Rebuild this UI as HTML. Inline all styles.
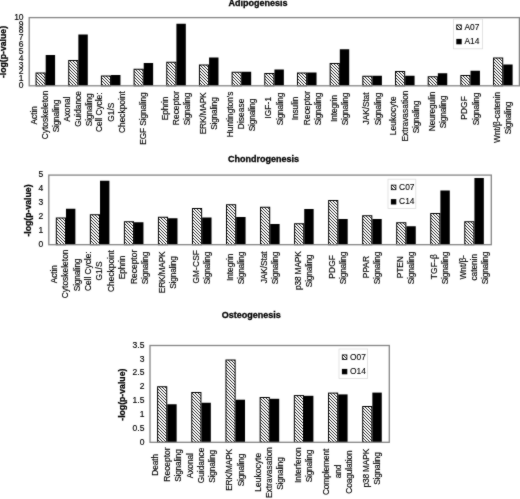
<!DOCTYPE html>
<html><head><meta charset="utf-8"><style>
html,body{margin:0;padding:0;background:#fff;width:520px;height:499px;overflow:hidden}
svg{display:block}
svg{will-change:transform}
text{font-family:"Liberation Sans",sans-serif;fill:#000;stroke:#000;stroke-width:0.16px}
.t{font-weight:bold;font-size:9.0px;stroke-width:0.3px}
.y{font-weight:bold;font-size:8.7px;stroke-width:0.25px}
.k{font-size:8.5px}
.c{font-size:8.37px}
.g{font-size:8.4px;stroke-width:0.1px}
</style></head><body>
<svg width="520" height="499" viewBox="0 0 520 499">
<defs><filter id="bl" x="0" y="0" width="520" height="499" filterUnits="userSpaceOnUse" color-interpolation-filters="sRGB"><feConvolveMatrix order="3" kernelMatrix="1 2 1 2 24 2 1 2 1" divisor="36" edgeMode="duplicate"/></filter><pattern id="h" x="0" y="0" width="3" height="3" patternUnits="userSpaceOnUse"><rect width="3" height="3" fill="#fff"/><rect x="0" y="0" width="1" height="1" fill="#333"/><rect x="1" y="1" width="1" height="1" fill="#333"/><rect x="2" y="2" width="1" height="1" fill="#333"/></pattern></defs>
<g filter="url(#bl)"><rect width="520" height="499" fill="#fff"/>

<text class="t" x="258" y="6.3" text-anchor="middle">Adipogenesis</text>
<text class="y" transform="translate(6.1,52) rotate(-90)" text-anchor="middle">-log(p-value)</text>
<text class="k" x="23.6" y="88.05" text-anchor="end">0</text>
<text class="k" x="23.6" y="81.23" text-anchor="end">1</text>
<text class="k" x="23.6" y="74.41" text-anchor="end">2</text>
<text class="k" x="23.6" y="67.59" text-anchor="end">3</text>
<text class="k" x="23.6" y="60.77" text-anchor="end">4</text>
<text class="k" x="23.6" y="53.95" text-anchor="end">5</text>
<text class="k" x="23.6" y="47.13" text-anchor="end">6</text>
<text class="k" x="23.6" y="40.31" text-anchor="end">7</text>
<text class="k" x="23.6" y="33.49" text-anchor="end">8</text>
<text class="k" x="23.6" y="26.67" text-anchor="end">9</text>
<text class="k" x="23.6" y="19.85" text-anchor="end">10</text>
<rect x="36.04" y="73" width="9.15" height="12.8" fill="url(#h)" stroke="#000" stroke-width="1"/>
<rect x="45.69" y="55" width="9.4" height="30.8" fill="#000"/>
<rect x="68.72" y="60.5" width="9.15" height="25.3" fill="url(#h)" stroke="#000" stroke-width="1"/>
<rect x="78.37" y="34.5" width="9.4" height="51.3" fill="#000"/>
<rect x="101.4" y="76" width="9.15" height="9.8" fill="url(#h)" stroke="#000" stroke-width="1"/>
<rect x="111.05" y="75" width="9.4" height="10.8" fill="#000"/>
<rect x="134.08" y="69.25" width="9.15" height="16.55" fill="url(#h)" stroke="#000" stroke-width="1"/>
<rect x="143.73" y="63" width="9.4" height="22.8" fill="#000"/>
<rect x="166.76" y="62.25" width="9.15" height="23.55" fill="url(#h)" stroke="#000" stroke-width="1"/>
<rect x="176.41" y="23.75" width="9.4" height="62.05" fill="#000"/>
<rect x="199.44" y="65" width="9.15" height="20.8" fill="url(#h)" stroke="#000" stroke-width="1"/>
<rect x="209.09" y="57.5" width="9.4" height="28.3" fill="#000"/>
<rect x="232.12" y="72.25" width="9.15" height="13.55" fill="url(#h)" stroke="#000" stroke-width="1"/>
<rect x="241.77" y="71.75" width="9.4" height="14.05" fill="#000"/>
<rect x="264.8" y="73.5" width="9.15" height="12.3" fill="url(#h)" stroke="#000" stroke-width="1"/>
<rect x="274.45" y="69.5" width="9.4" height="16.3" fill="#000"/>
<rect x="297.48" y="73" width="9.15" height="12.8" fill="url(#h)" stroke="#000" stroke-width="1"/>
<rect x="307.13" y="72.5" width="9.4" height="13.3" fill="#000"/>
<rect x="330.16" y="63.5" width="9.15" height="22.3" fill="url(#h)" stroke="#000" stroke-width="1"/>
<rect x="339.81" y="49.25" width="9.4" height="36.55" fill="#000"/>
<rect x="362.84" y="76.25" width="9.15" height="9.55" fill="url(#h)" stroke="#000" stroke-width="1"/>
<rect x="372.49" y="75.75" width="9.4" height="10.05" fill="#000"/>
<rect x="395.52" y="71.5" width="9.15" height="14.3" fill="url(#h)" stroke="#000" stroke-width="1"/>
<rect x="405.17" y="75.75" width="9.4" height="10.05" fill="#000"/>
<rect x="428.2" y="76.75" width="9.15" height="9.05" fill="url(#h)" stroke="#000" stroke-width="1"/>
<rect x="437.85" y="73.25" width="9.4" height="12.55" fill="#000"/>
<rect x="460.88" y="75.5" width="9.15" height="10.3" fill="url(#h)" stroke="#000" stroke-width="1"/>
<rect x="470.53" y="70.75" width="9.4" height="15.05" fill="#000"/>
<rect x="493.56" y="58" width="9.15" height="27.8" fill="url(#h)" stroke="#000" stroke-width="1"/>
<rect x="503.21" y="64.5" width="9.4" height="21.3" fill="#000"/>
<rect x="29.2" y="17.6" width="490.2" height="68.2" fill="none" stroke="#858585" stroke-width="1.3"/>
<rect x="453.4" y="19" width="29.2" height="29.8" fill="#fff" stroke="#ddd" stroke-width="0.8"/>
<rect x="456.7" y="24.9" width="4.6" height="4.6" fill="url(#h)" stroke="#000" stroke-width="0.8"/>
<text class="g" x="464.5" y="29.8">A07</text>
<rect x="456.3" y="38.9" width="5.4" height="5.4" fill="#000"/>
<text class="g" x="464.5" y="44.2">A14</text>
<text class="c" transform="translate(36.94,124.41) rotate(-90)" textLength="18.26" lengthAdjust="spacing">Actin</text>
<text class="c" transform="translate(48.14,139.3) rotate(-90)" textLength="48.7" lengthAdjust="spacing">Cytoskeleton</text>
<text class="c" transform="translate(59.34,132.32) rotate(-90)" textLength="32.72" lengthAdjust="spacing">Signaling</text>
<text class="c" transform="translate(69.62,121.71) rotate(-90)" textLength="25.11" lengthAdjust="spacing">Axonal</text>
<text class="c" transform="translate(80.82,126.83) rotate(-90)" textLength="35.77" lengthAdjust="spacing">Guidance</text>
<text class="c" transform="translate(92.02,126.13) rotate(-90)" textLength="32.72" lengthAdjust="spacing">Signaling</text>
<text class="c" transform="translate(102.3,132.09) rotate(-90)" textLength="39.57" lengthAdjust="spacing">Cell Cycle:</text>
<text class="c" transform="translate(113.5,121.63) rotate(-90)" textLength="19.02" lengthAdjust="spacing">G1/S</text>
<text class="c" transform="translate(124.7,133.03) rotate(-90)" textLength="41.86" lengthAdjust="spacing">Checkpoint</text>
<text class="c" transform="translate(146.18,144.75) rotate(-90)" textLength="52.51" lengthAdjust="spacing">EGF Signaling</text>
<text class="c" transform="translate(167.66,120.25) rotate(-90)" textLength="23.59" lengthAdjust="spacing">Ephrin</text>
<text class="c" transform="translate(178.86,125.13) rotate(-90)" textLength="34.24" lengthAdjust="spacing">Receptor</text>
<text class="c" transform="translate(190.06,125.37) rotate(-90)" textLength="32.72" lengthAdjust="spacing">Signaling</text>
<text class="c" transform="translate(205.94,134.26) rotate(-90)" textLength="41.86" lengthAdjust="spacing">ERK/MAPK</text>
<text class="c" transform="translate(217.14,129.85) rotate(-90)" textLength="32.72" lengthAdjust="spacing">Signaling</text>
<text class="c" transform="translate(233.02,137.16) rotate(-90)" textLength="45.66" lengthAdjust="spacing">Huntington's</text>
<text class="c" transform="translate(244.22,129.15) rotate(-90)" textLength="30.44" lengthAdjust="spacing">Disease</text>
<text class="c" transform="translate(255.42,131.25) rotate(-90)" textLength="32.72" lengthAdjust="spacing">Signaling</text>
<text class="c" transform="translate(271.3,118.85) rotate(-90)" textLength="22.07" lengthAdjust="spacing">IGF-1</text>
<text class="c" transform="translate(282.5,125.37) rotate(-90)" textLength="32.72" lengthAdjust="spacing">Signaling</text>
<text class="c" transform="translate(298.38,120.25) rotate(-90)" textLength="23.59" lengthAdjust="spacing">Insulin</text>
<text class="c" transform="translate(309.58,125.13) rotate(-90)" textLength="34.24" lengthAdjust="spacing">Receptor</text>
<text class="c" transform="translate(320.78,125.37) rotate(-90)" textLength="32.72" lengthAdjust="spacing">Signaling</text>
<text class="c" transform="translate(336.66,122.11) rotate(-90)" textLength="27.4" lengthAdjust="spacing">Integrin</text>
<text class="c" transform="translate(347.86,125.37) rotate(-90)" textLength="32.72" lengthAdjust="spacing">Signaling</text>
<text class="c" transform="translate(369.34,124.43) rotate(-90)" textLength="31.96" lengthAdjust="spacing">JAK/Stat</text>
<text class="c" transform="translate(380.54,125.37) rotate(-90)" textLength="32.72" lengthAdjust="spacing">Signaling</text>
<text class="c" transform="translate(396.42,135.21) rotate(-90)" textLength="38.81" lengthAdjust="spacing">Leukocyte</text>
<text class="c" transform="translate(407.62,141.49) rotate(-90)" textLength="50.99" lengthAdjust="spacing">Extravasation</text>
<text class="c" transform="translate(418.82,133.35) rotate(-90)" textLength="32.72" lengthAdjust="spacing">Signaling</text>
<text class="c" transform="translate(434.7,131.26) rotate(-90)" textLength="39.57" lengthAdjust="spacing">Neuregulin</text>
<text class="c" transform="translate(445.9,128.24) rotate(-90)" textLength="32.72" lengthAdjust="spacing">Signaling</text>
<text class="c" transform="translate(467.38,119.78) rotate(-90)" textLength="23.59" lengthAdjust="spacing">PDGF</text>
<text class="c" transform="translate(478.58,125.37) rotate(-90)" textLength="32.72" lengthAdjust="spacing">Signaling</text>
<text class="c" transform="translate(500.06,142.9) rotate(-90)" textLength="50.99" lengthAdjust="spacing">Wnt/β-catenin</text>
<text class="c" transform="translate(511.26,134.22) rotate(-90)" textLength="32.72" lengthAdjust="spacing">Signaling</text>
<text class="t" x="263.5" y="162" text-anchor="middle">Chondrogenesis</text>
<text class="y" transform="translate(30.6,210.5) rotate(-90)" text-anchor="middle">-log(p-value)</text>
<text class="k" x="43.2" y="246.95" text-anchor="end">0</text>
<text class="k" x="43.2" y="233.03" text-anchor="end">1</text>
<text class="k" x="43.2" y="219.11" text-anchor="end">2</text>
<text class="k" x="43.2" y="205.19" text-anchor="end">3</text>
<text class="k" x="43.2" y="191.27" text-anchor="end">4</text>
<text class="k" x="43.2" y="177.35" text-anchor="end">5</text>
<rect x="56.32" y="218" width="9.15" height="26.7" fill="url(#h)" stroke="#000" stroke-width="1"/>
<rect x="65.97" y="208.75" width="9.4" height="35.95" fill="#000"/>
<rect x="90.36" y="214.75" width="9.15" height="29.95" fill="url(#h)" stroke="#000" stroke-width="1"/>
<rect x="100.01" y="180.75" width="9.4" height="63.95" fill="#000"/>
<rect x="124.4" y="221.75" width="9.15" height="22.95" fill="url(#h)" stroke="#000" stroke-width="1"/>
<rect x="134.05" y="222.25" width="9.4" height="22.45" fill="#000"/>
<rect x="158.43" y="217.25" width="9.15" height="27.45" fill="url(#h)" stroke="#000" stroke-width="1"/>
<rect x="168.08" y="218.25" width="9.4" height="26.45" fill="#000"/>
<rect x="192.47" y="208.5" width="9.15" height="36.2" fill="url(#h)" stroke="#000" stroke-width="1"/>
<rect x="202.12" y="217.5" width="9.4" height="27.2" fill="#000"/>
<rect x="226.51" y="204.75" width="9.15" height="39.95" fill="url(#h)" stroke="#000" stroke-width="1"/>
<rect x="236.16" y="217" width="9.4" height="27.7" fill="#000"/>
<rect x="260.55" y="207.25" width="9.15" height="37.45" fill="url(#h)" stroke="#000" stroke-width="1"/>
<rect x="270.2" y="224" width="9.4" height="20.7" fill="#000"/>
<rect x="294.59" y="223.75" width="9.15" height="20.95" fill="url(#h)" stroke="#000" stroke-width="1"/>
<rect x="304.24" y="209" width="9.4" height="35.7" fill="#000"/>
<rect x="328.63" y="200.5" width="9.15" height="44.2" fill="url(#h)" stroke="#000" stroke-width="1"/>
<rect x="338.28" y="219" width="9.4" height="25.7" fill="#000"/>
<rect x="362.67" y="215.75" width="9.15" height="28.95" fill="url(#h)" stroke="#000" stroke-width="1"/>
<rect x="372.32" y="219" width="9.4" height="25.7" fill="#000"/>
<rect x="396.7" y="222.75" width="9.15" height="21.95" fill="url(#h)" stroke="#000" stroke-width="1"/>
<rect x="406.35" y="226.25" width="9.4" height="18.45" fill="#000"/>
<rect x="430.74" y="213.5" width="9.15" height="31.2" fill="url(#h)" stroke="#000" stroke-width="1"/>
<rect x="440.39" y="190.5" width="9.4" height="54.2" fill="#000"/>
<rect x="464.78" y="221.75" width="9.15" height="22.95" fill="url(#h)" stroke="#000" stroke-width="1"/>
<rect x="474.43" y="178" width="9.4" height="66.7" fill="#000"/>
<rect x="48.8" y="175.1" width="442.5" height="69.6" fill="none" stroke="#858585" stroke-width="1.3"/>
<rect x="388" y="179.2" width="27.8" height="29.2" fill="#fff" stroke="#ddd" stroke-width="0.8"/>
<rect x="391.3" y="185.1" width="4.6" height="4.6" fill="url(#h)" stroke="#000" stroke-width="0.8"/>
<text class="g" x="399.1" y="190">C07</text>
<rect x="390.9" y="199.1" width="5.4" height="5.4" fill="#000"/>
<text class="g" x="399.1" y="204.4">C14</text>
<text class="c" transform="translate(57.22,283.31) rotate(-90)" textLength="18.26" lengthAdjust="spacing">Actin</text>
<text class="c" transform="translate(68.42,298.2) rotate(-90)" textLength="48.7" lengthAdjust="spacing">Cytoskeleton</text>
<text class="c" transform="translate(79.62,291.22) rotate(-90)" textLength="32.72" lengthAdjust="spacing">Signaling</text>
<text class="c" transform="translate(91.26,290.99) rotate(-90)" textLength="39.57" lengthAdjust="spacing">Cell Cycle:</text>
<text class="c" transform="translate(102.46,280.53) rotate(-90)" textLength="19.02" lengthAdjust="spacing">G1/S</text>
<text class="c" transform="translate(113.66,291.93) rotate(-90)" textLength="41.86" lengthAdjust="spacing">Checkpoint</text>
<text class="c" transform="translate(125.3,279.15) rotate(-90)" textLength="23.59" lengthAdjust="spacing">Ephrin</text>
<text class="c" transform="translate(136.5,284.03) rotate(-90)" textLength="34.24" lengthAdjust="spacing">Receptor</text>
<text class="c" transform="translate(147.7,284.27) rotate(-90)" textLength="32.72" lengthAdjust="spacing">Signaling</text>
<text class="c" transform="translate(164.93,293.16) rotate(-90)" textLength="41.86" lengthAdjust="spacing">ERK/MAPK</text>
<text class="c" transform="translate(176.13,288.75) rotate(-90)" textLength="32.72" lengthAdjust="spacing">Signaling</text>
<text class="c" transform="translate(198.97,283.56) rotate(-90)" textLength="33.48" lengthAdjust="spacing">GM-CSF</text>
<text class="c" transform="translate(210.17,284.27) rotate(-90)" textLength="32.72" lengthAdjust="spacing">Signaling</text>
<text class="c" transform="translate(233.01,281.01) rotate(-90)" textLength="27.4" lengthAdjust="spacing">Integrin</text>
<text class="c" transform="translate(244.21,284.27) rotate(-90)" textLength="32.72" lengthAdjust="spacing">Signaling</text>
<text class="c" transform="translate(267.05,283.33) rotate(-90)" textLength="31.96" lengthAdjust="spacing">JAK/Stat</text>
<text class="c" transform="translate(278.25,284.27) rotate(-90)" textLength="32.72" lengthAdjust="spacing">Signaling</text>
<text class="c" transform="translate(301.09,289.99) rotate(-90)" textLength="38.81" lengthAdjust="spacing">p38 MAPK</text>
<text class="c" transform="translate(312.29,287.2) rotate(-90)" textLength="32.72" lengthAdjust="spacing">Signaling</text>
<text class="c" transform="translate(335.13,278.68) rotate(-90)" textLength="23.59" lengthAdjust="spacing">PDGF</text>
<text class="c" transform="translate(346.33,284.27) rotate(-90)" textLength="32.72" lengthAdjust="spacing">Signaling</text>
<text class="c" transform="translate(369.17,278.14) rotate(-90)" textLength="22.07" lengthAdjust="spacing">PPAR</text>
<text class="c" transform="translate(380.37,284.27) rotate(-90)" textLength="32.72" lengthAdjust="spacing">Signaling</text>
<text class="c" transform="translate(403.2,278.21) rotate(-90)" textLength="22.07" lengthAdjust="spacing">PTEN</text>
<text class="c" transform="translate(414.4,284.27) rotate(-90)" textLength="32.72" lengthAdjust="spacing">Signaling</text>
<text class="c" transform="translate(437.24,279.22) rotate(-90)" textLength="25.11" lengthAdjust="spacing">TGF-β</text>
<text class="c" transform="translate(448.44,284.27) rotate(-90)" textLength="32.72" lengthAdjust="spacing">Signaling</text>
<text class="c" transform="translate(465.68,279.45) rotate(-90)" textLength="24.35" lengthAdjust="spacing">Wnt/β-</text>
<text class="c" transform="translate(476.88,280.55) rotate(-90)" textLength="26.64" lengthAdjust="spacing">catenin</text>
<text class="c" transform="translate(488.08,284.27) rotate(-90)" textLength="32.72" lengthAdjust="spacing">Signaling</text>
<text class="t" x="251.3" y="318.2" text-anchor="middle">Osteogenesis</text>
<text class="y" transform="translate(124.5,394.7) rotate(-90)" text-anchor="middle">-log(p-value)</text>
<text class="k" x="144.4" y="444.55" text-anchor="end">0</text>
<text class="k" x="144.4" y="430.72" text-anchor="end">0.5</text>
<text class="k" x="144.4" y="416.89" text-anchor="end">1</text>
<text class="k" x="144.4" y="403.06" text-anchor="end">1.5</text>
<text class="k" x="144.4" y="389.24" text-anchor="end">2</text>
<text class="k" x="144.4" y="375.41" text-anchor="end">2.5</text>
<text class="k" x="144.4" y="361.58" text-anchor="end">3</text>
<text class="k" x="144.4" y="347.75" text-anchor="end">3.5</text>
<rect x="157.59" y="386.75" width="9.15" height="55.55" fill="url(#h)" stroke="#000" stroke-width="1"/>
<rect x="167.24" y="404.25" width="9.4" height="38.05" fill="#000"/>
<rect x="191.78" y="392.5" width="9.15" height="49.8" fill="url(#h)" stroke="#000" stroke-width="1"/>
<rect x="201.43" y="402.75" width="9.4" height="39.55" fill="#000"/>
<rect x="225.96" y="360" width="9.15" height="82.3" fill="url(#h)" stroke="#000" stroke-width="1"/>
<rect x="235.61" y="399.7" width="9.4" height="42.6" fill="#000"/>
<rect x="260.15" y="397.5" width="9.15" height="44.8" fill="url(#h)" stroke="#000" stroke-width="1"/>
<rect x="269.8" y="398.8" width="9.4" height="43.5" fill="#000"/>
<rect x="294.34" y="395.6" width="9.15" height="46.7" fill="url(#h)" stroke="#000" stroke-width="1"/>
<rect x="303.99" y="395.8" width="9.4" height="46.5" fill="#000"/>
<rect x="328.52" y="393.1" width="9.15" height="49.2" fill="url(#h)" stroke="#000" stroke-width="1"/>
<rect x="338.17" y="394.4" width="9.4" height="47.9" fill="#000"/>
<rect x="362.71" y="406.5" width="9.15" height="35.8" fill="url(#h)" stroke="#000" stroke-width="1"/>
<rect x="372.36" y="392.6" width="9.4" height="49.7" fill="#000"/>
<rect x="150" y="345.5" width="239.3" height="96.8" fill="none" stroke="#858585" stroke-width="1.3"/>
<rect x="339" y="349" width="28.6" height="29.4" fill="#fff" stroke="#ddd" stroke-width="0.8"/>
<rect x="342.3" y="354.9" width="4.6" height="4.6" fill="url(#h)" stroke="#000" stroke-width="0.8"/>
<text class="g" x="350.1" y="359.8">O07</text>
<rect x="341.9" y="368.9" width="5.4" height="5.4" fill="#000"/>
<text class="g" x="350.1" y="374.2">O14</text>
<text class="c" transform="translate(158.49,475.82) rotate(-90)" textLength="22.07" lengthAdjust="spacing">Death</text>
<text class="c" transform="translate(169.69,481.63) rotate(-90)" textLength="34.24" lengthAdjust="spacing">Receptor</text>
<text class="c" transform="translate(180.89,481.87) rotate(-90)" textLength="32.72" lengthAdjust="spacing">Signaling</text>
<text class="c" transform="translate(192.68,478.21) rotate(-90)" textLength="25.11" lengthAdjust="spacing">Axonal</text>
<text class="c" transform="translate(203.88,483.33) rotate(-90)" textLength="35.77" lengthAdjust="spacing">Guidance</text>
<text class="c" transform="translate(215.08,482.63) rotate(-90)" textLength="32.72" lengthAdjust="spacing">Signaling</text>
<text class="c" transform="translate(232.46,490.76) rotate(-90)" textLength="41.86" lengthAdjust="spacing">ERK/MAPK</text>
<text class="c" transform="translate(243.66,486.35) rotate(-90)" textLength="32.72" lengthAdjust="spacing">Signaling</text>
<text class="c" transform="translate(261.05,491.71) rotate(-90)" textLength="38.81" lengthAdjust="spacing">Leukocyte</text>
<text class="c" transform="translate(272.25,497.99) rotate(-90)" textLength="50.99" lengthAdjust="spacing">Extravasation</text>
<text class="c" transform="translate(283.45,489.85) rotate(-90)" textLength="32.72" lengthAdjust="spacing">Signaling</text>
<text class="c" transform="translate(300.84,483.06) rotate(-90)" textLength="35.77" lengthAdjust="spacing">Interferon</text>
<text class="c" transform="translate(312.04,482.37) rotate(-90)" textLength="32.72" lengthAdjust="spacing">Signaling</text>
<text class="c" transform="translate(329.42,495.1) rotate(-90)" textLength="46.42" lengthAdjust="spacing">Complement</text>
<text class="c" transform="translate(340.62,478.36) rotate(-90)" textLength="13.7" lengthAdjust="spacing">and</text>
<text class="c" transform="translate(351.82,493.71) rotate(-90)" textLength="43.38" lengthAdjust="spacing">Coagulation</text>
<text class="c" transform="translate(369.21,487.59) rotate(-90)" textLength="38.81" lengthAdjust="spacing">p38 MAPK</text>
<text class="c" transform="translate(380.41,484.8) rotate(-90)" textLength="32.72" lengthAdjust="spacing">Signaling</text>
</g></svg></body></html>
